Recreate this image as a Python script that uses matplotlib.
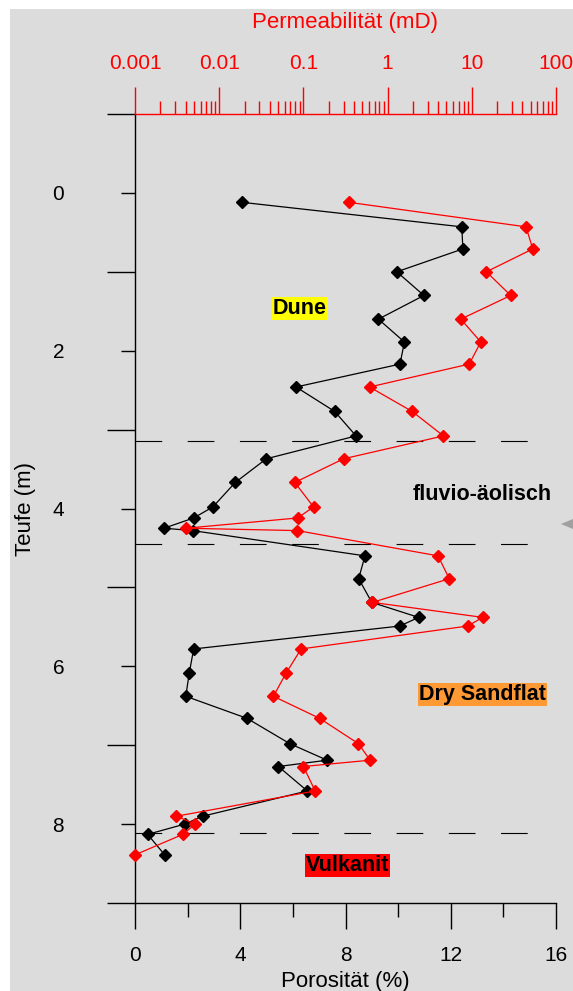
import matplotlib
matplotlib.use("Agg")
import matplotlib.pyplot as plt
import matplotlib.ticker as ticker
from matplotlib.patches import Rectangle, Polygon

plt.rcParams['font.family'] = ['Liberation Sans', 'DejaVu Sans']

# Teufe (m), gleiche Tiefen fuer beide Kurven
depth = [0.12, 0.43, 0.71, 1.00, 1.30, 1.60, 1.89, 2.17, 2.46, 2.77, 3.08,
         3.37, 3.67, 3.98, 4.12, 4.25, 4.28, 4.60, 4.89, 5.19, 5.38, 5.49,
         5.78, 6.09, 6.38, 6.66, 6.98, 7.19, 7.27, 7.58, 7.90, 8.00, 8.13, 8.39]
# Porositaet (%)
poro = [4.08, 12.42, 12.46, 9.95, 10.98, 9.25, 10.24, 10.07, 6.12, 7.59, 8.40,
        4.99, 3.81, 2.96, 2.23, 1.10, 2.19, 8.74, 8.50, 9.00, 10.78, 10.06,
        2.23, 2.06, 1.93, 4.26, 5.88, 7.30, 5.45, 6.55, 2.57, 1.89, 0.48, 1.13]
# Permeabilitaet (mD)
perm = [0.35, 44, 53, 14.9, 29, 7.4, 12.8, 9.3, 0.61, 1.96, 4.6,
        0.30, 0.079, 0.132, 0.0855, 0.0040, 0.085, 3.97, 5.4, 0.66, 13.5, 8.9,
        0.094, 0.062, 0.044, 0.156, 0.45, 0.62, 0.10, 0.138, 0.0031, 0.0052, 0.0037, 0.001]

# Faziesgrenzen
boundaries = [3.15, 4.45, 8.115]
facies = ["Dune", "fluvio-äolisch", "Dry Sandflat", "Vulkanit"]
facies_colors = ["#ffff00", None, "#ff9933", "#ff0000"]
facies_pos = [(6.27, 1.46), (13.2, 3.82), (13.2, 6.36), (8.08, 8.53)]

depth_major = [0, 2, 4, 6, 8]
depth_minor = [-1, 1, 3, 5, 7, 9]
poro_major = [0, 4, 8, 12, 16]
poro_minor = [2, 6, 10, 14]

bg = "#dcdcdc"
fig = plt.figure(figsize=(5.73, 9.91), dpi=100, facecolor="white")
fig.patches.append(Rectangle((10 / 573, 0), 1, 1 - 9 / 991, transform=fig.transFigure,
                             facecolor=bg, edgecolor="none", zorder=-10))

ax = fig.add_axes([135 / 573, 1 - 903 / 991, 421 / 573, (903 - 114) / 991])
ax.set_facecolor(bg)
ax.set_xlim(0, 16)
ax.set_ylim(9, -1)

for b in boundaries:
    ax.plot([0, 15.13], [b, b], color="black", lw=0.8, dashes=(24, 23))

ax.plot(poro, depth, color="black", lw=0.9, marker="D", ms=6, mec="black", clip_on=False)

for name, col, (px, py) in zip(facies, facies_colors, facies_pos):
    kw = {}
    if col:
        kw["bbox"] = dict(boxstyle="square,pad=0.05", fc=col, ec="none")
    ax.text(px, py, name, ha="center", va="center", fontsize=15.5, fontweight="bold", **kw)

for s in ["top", "right"]:
    ax.spines[s].set_visible(False)
ax.spines["left"].set_linewidth(1)
ax.spines["bottom"].set_linewidth(1)

ax.yaxis.set_major_locator(ticker.FixedLocator(depth_major))
ax.yaxis.set_minor_locator(ticker.FixedLocator(depth_minor))
ax.xaxis.set_major_locator(ticker.FixedLocator(poro_major))
ax.xaxis.set_minor_locator(ticker.FixedLocator(poro_minor))
ax.tick_params(axis="y", which="major", length=10, width=1, pad=41, labelsize=15)
ax.tick_params(axis="y", which="minor", length=20, width=1)
ax.tick_params(axis="x", which="major", length=19, width=1, pad=12, labelsize=15)
ax.tick_params(axis="x", which="minor", length=10, width=1)
ax.set_xlabel("Porosität (%)", fontsize=16, labelpad=4)
ax.set_ylabel("Teufe (m)", fontsize=16, labelpad=12)

ax2 = ax.twiny()
ax2.set_xscale("log")
ax2.set_xlim(0.001, 100)
ax2.patch.set_visible(False)
ax2.plot(perm, depth, color="red", lw=0.9, marker="D", ms=6.5, mec="red", clip_on=False)
for s in ["bottom", "left", "right"]:
    ax2.spines[s].set_visible(False)
ax2.spines["top"].set_color("red")
ax2.spines["top"].set_linewidth(1)
ax2.xaxis.set_major_locator(ticker.LogLocator(base=10, numticks=10))
ax2.xaxis.set_minor_locator(ticker.LogLocator(base=10, subs=range(2, 10), numticks=10))
ax2.xaxis.set_major_formatter(ticker.FuncFormatter(lambda v, p: "%g" % v))
ax2.xaxis.set_minor_formatter(ticker.NullFormatter())
ax2.tick_params(axis="x", which="major", length=19.5, width=1, color="red",
                labelcolor="red", pad=10, labelsize=15)
ax2.tick_params(axis="x", which="minor", length=9.5, width=1, color="red")
ax2.set_xlabel("Permeabilität (mD)", fontsize=16, color="red", labelpad=19)

# grauer Pfeil am rechten Rand
fig.patches.append(Polygon([(561 / 573, 1 - 524 / 991), (1.0, 1 - 519 / 991), (1.0, 1 - 529 / 991)],
                           closed=True, transform=fig.transFigure, facecolor="#a0a0a0", edgecolor="none"))

fig.savefig("out.png", dpi=100, facecolor=fig.get_facecolor())
